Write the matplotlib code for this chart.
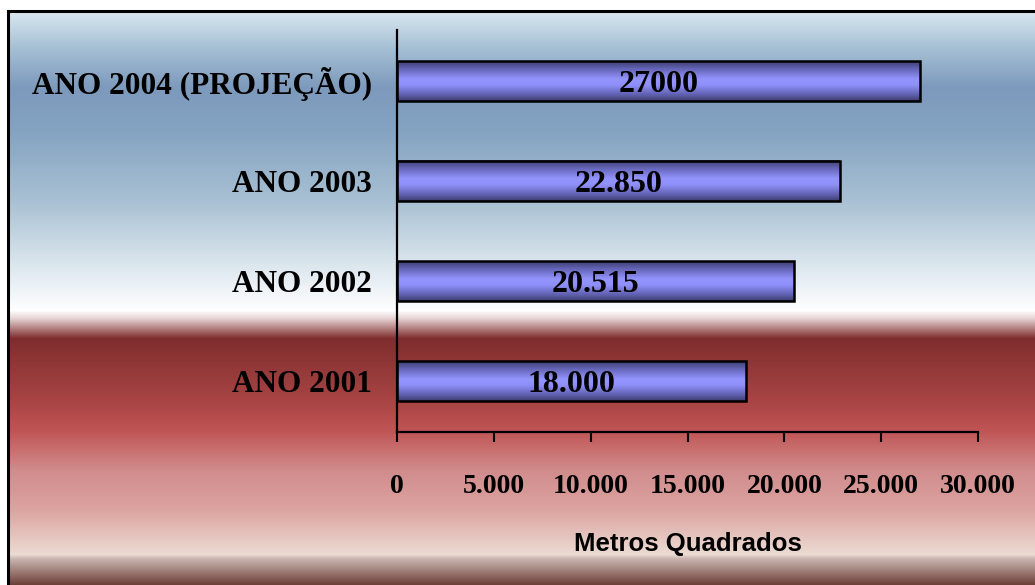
import matplotlib.pyplot as plt
import numpy as np
from matplotlib.colors import LinearSegmentedColormap, to_rgb
from matplotlib.lines import Line2D

# data
categories = ['ANO 2001', 'ANO 2002', 'ANO 2003', 'ANO 2004 (PROJEÇÃO)']
values = [18000, 20515, 22850, 27000]
value_labels = ['18.000', '20.515', '22.850', '27000']
xticks = [0, 5000, 10000, 15000, 20000, 25000, 30000]
xtick_labels = ['0', '5.000', '10.000', '15.000', '20.000', '25.000', '30.000']

W, H = 1035, 585
fig = plt.figure(figsize=(W / 100, H / 100), dpi=100)
fig.patch.set_facecolor('white')

# background gradient (pixel row -> colour), top to bottom
bg_stops = [
    (11, '#dae8f2'), (50, '#a2bdd2'), (88, '#7d99bc'), (130, '#84a3c1'),
    (200, '#a8c0d3'), (260, '#d8e4ec'), (310, '#ffffff'), (318, '#e6d2d2'),
    (338, '#7e2c2c'), (345, '#843030'), (400, '#a84444'), (430, '#c05454'),
    (470, '#d18c8c'), (510, '#dca4a0'), (554, '#ecdcd4'), (558, '#cbb7b2'),
    (585, '#6a3c34'),
]
rows = np.arange(11, H)
ys = [s[0] for s in bg_stops]
cols = np.array([to_rgb(s[1]) for s in bg_stops])
grad = np.stack([np.interp(rows, ys, cols[:, k]) for k in range(3)], axis=-1)
bg = fig.add_axes([8 / W, 0, 1 - 8 / W, (H - 11) / H])
bg.imshow(grad[:, None, :], aspect='auto', interpolation='bilinear')
bg.axis('off')

# outer frame (only left and top visible)
fig.add_artist(Line2D([8 / W, 8 / W], [0, (H - 11) / H], color='black', lw=2.2))
fig.add_artist(Line2D([8 / W, 1], [(H - 11) / H, (H - 11) / H], color='black', lw=2.2))

ax = fig.add_axes([397 / W, (H - 432) / H, (978 - 397) / W, (432 - 30) / H])
ax.patch.set_alpha(0)

bar_cmap = LinearSegmentedColormap.from_list(
    'bar', [(0, '#3e3e70'), (0.18, '#6262b4'), (0.45, '#9494ff'),
            (0.6, '#9090fa'), (0.85, '#6060b0'), (1, '#3e3e70')])
ypos = np.arange(len(categories))
bar_h = 0.4
bars = ax.barh(ypos, values, height=bar_h, facecolor='none',
               edgecolor='black', linewidth=1.8, zorder=3)
g = np.linspace(0, 1, 64)[:, None]
for y, v in zip(ypos, values):
    ax.imshow(g, cmap=bar_cmap, aspect='auto', extent=[0, v, y - bar_h / 2, y + bar_h / 2],
              zorder=2, interpolation='bilinear')
for y, v, lab in zip(ypos, values, value_labels):
    ax.text(v / 2, y, lab, ha='center', va='center_baseline', fontsize=23,
            fontweight='bold', family='Liberation Serif', zorder=4)

ax.set_xlim(0, 30000)
ax.set_ylim(-0.51, 3.51)
ax.set_xticks(xticks)
ax.set_xticklabels(xtick_labels, fontsize=20, fontweight='bold', family='Liberation Serif')
ax.set_yticks(ypos)
ax.set_yticklabels(categories, fontsize=22.5, fontweight='bold', family='Liberation Serif')
ax.tick_params(axis='x', direction='out', length=7, width=1.5, pad=23, color='black')
ax.tick_params(axis='y', length=0, pad=18)
for s in ['top', 'right']:
    ax.spines[s].set_visible(False)
for s in ['left', 'bottom']:
    ax.spines[s].set_linewidth(1.6)
ax.set_xlabel('Metros Quadrados', fontsize=18.5, fontweight='bold',
              family='Liberation Sans', labelpad=24)

fig.savefig('out.png', dpi=100)
